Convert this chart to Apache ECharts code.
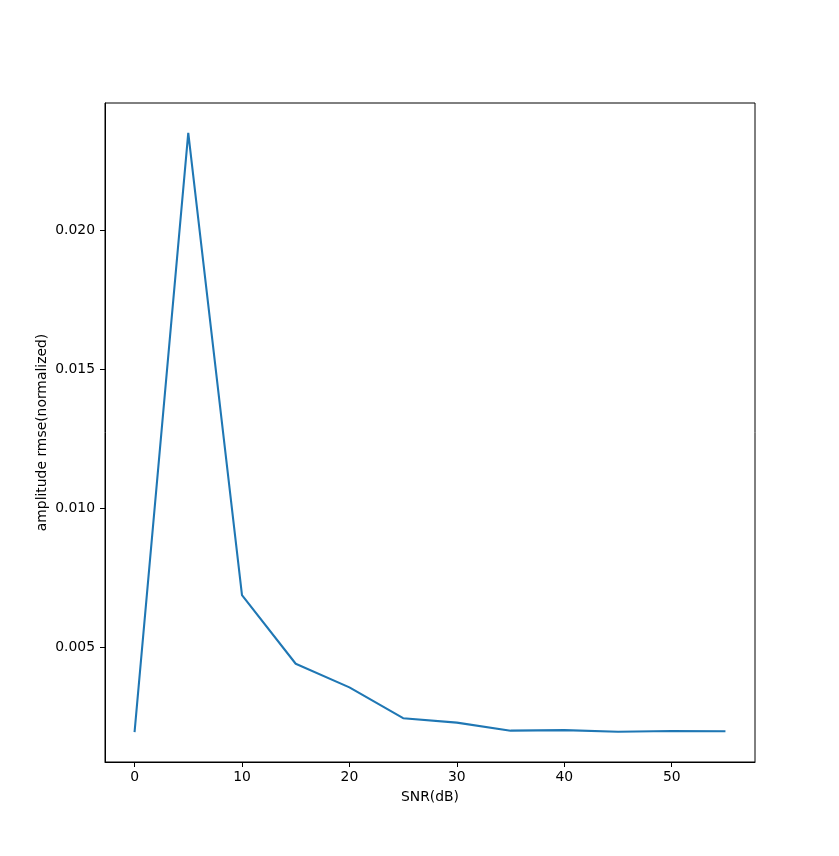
<!DOCTYPE html>
<html>
<head>
<meta charset="utf-8">
<script src="https://cdn.jsdelivr.net/npm/echarts@6/dist/echarts.min.js"></script>
<style>html,body{margin:0;padding:0;background:#fff}#c{width:839px;height:856px}</style>
</head>
<body>
<div id="c"></div>
<script>
const snr = [0, 5, 10, 15, 20, 25, 30, 35, 40, 45, 50, 55];
const rmse = [0.00194, 0.02352, 0.00687, 0.00440, 0.00355, 0.00244, 0.00228, 0.00199, 0.00201, 0.00195, 0.00198, 0.00197];
const xTicks = [0, 10, 20, 30, 40, 50];
const yTicks = [0.005, 0.010, 0.015, 0.020];

const pts = snr.map((x, i) => [x, rmse[i]]);
const dmin = Math.min(...rmse), dmax = Math.max(...rmse);
const ym = (dmax - dmin) * 0.05;
const xm = (snr[snr.length - 1] - snr[0]) * 0.05;
const font = 'DejaVu Sans';

const chart = echarts.init(document.getElementById('c'), null, {renderer: 'canvas'});
chart.setOption({
  animation: false,
  backgroundColor: '#fff',
  grid: {left: 105, right: 84, top: 103, bottom: 94, show: true, borderColor: '#000', borderWidth: 1, backgroundColor: 'transparent'},
  xAxis: {
    type: 'value', min: snr[0] - xm, max: snr[snr.length - 1] + xm,
    name: 'SNR(dB)', nameLocation: 'middle', nameGap: 28, nameMoveOverlap: false,
    nameTextStyle: {fontFamily: font, fontSize: 13.9, color: '#000'},
    axisLine: {show: true, onZero: false, lineStyle: {color: '#000', width: 1}},
    axisTick: {show: true, inside: false, length: 5, lineStyle: {color: '#000'}, customValues: xTicks},
    axisLabel: {show: true, margin: 8, fontFamily: font, fontSize: 13.9, color: '#000', customValues: xTicks, formatter: v => String(v)},
    splitLine: {show: false}
  },
  yAxis: {
    type: 'value', min: dmin - ym, max: dmax + ym,
    name: 'amplitude rmse(normalized)', nameLocation: 'middle', nameGap: 56, nameMoveOverlap: false,
    nameTextStyle: {fontFamily: font, fontSize: 13.9, color: '#000'},
    axisLine: {show: true, onZero: false, lineStyle: {color: '#000', width: 1}},
    axisTick: {show: true, inside: false, length: 5, lineStyle: {color: '#000'}, customValues: yTicks},
    axisLabel: {show: true, margin: 10, fontFamily: font, fontSize: 13.9, color: '#000', customValues: yTicks, formatter: v => v.toFixed(3)},
    splitLine: {show: false}
  },
  series: [{
    type: 'line', data: pts, showSymbol: false, symbol: 'none',
    lineStyle: {color: '#1f77b4', width: 2.08}
  }]
});
</script>
</body>
</html>
